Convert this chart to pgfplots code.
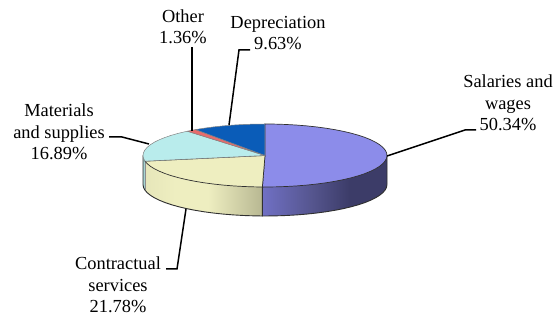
\documentclass[border=0pt]{standalone}
\usepackage{pgfplots}
\pgfplotsset{compat=1.18}
\usepackage{fontspec}
\setmainfont{Liberation Serif}
\definecolor{salTop}{HTML}{8C8CEA}
\definecolor{conTop}{HTML}{EEEEC0}
\definecolor{matTop}{HTML}{B9ECEC}
\definecolor{othTop}{HTML}{E86C6C}
\definecolor{depTop}{HTML}{0A5CB8}
\definecolor{salA}{HTML}{7070C4}
\definecolor{salB}{HTML}{55558E}
\definecolor{salC}{HTML}{3C3C68}
\definecolor{conA}{HTML}{E6E6BA}
\definecolor{conB}{HTML}{EEEEC0}
\definecolor{conC}{HTML}{B8B892}
\definecolor{matA}{HTML}{A0CCCC}
\definecolor{matB}{HTML}{B0DCDC}
\definecolor{edge}{HTML}{303030}
% The path's extent runs from 25bp to 75bp of a declared shading.
\pgfdeclarehorizontalshading{salWall}{100bp}{
  color(0bp)=(salA); color(25bp)=(salA); color(45bp)=(salB);
  color(60bp)=(salC); color(100bp)=(salC)}
\pgfdeclarehorizontalshading{conWall}{100bp}{
  color(0bp)=(conA); color(25bp)=(conA); color(38bp)=(conB); color(52bp)=(conB);
  color(75bp)=(conC); color(100bp)=(conC)}
\pgfdeclarehorizontalshading{matWall}{100bp}{
  color(0bp)=(matA); color(25bp)=(matA); color(75bp)=(matB); color(100bp)=(matB)}
\begin{document}
\begin{tikzpicture}[x=1pt,y=1pt]
\useasboundingbox (0,0) rectangle (558,320);

% Pie: one x unit is the horizontal semi-axis of the top ellipse, one y unit the vertical one.
\begin{axis}[
  at={(0pt,0pt)}, anchor=south west,
  hide axis,
  x=122pt, y=31.5pt,
  xmin=-2.1721, xmax=2.4016,
  ymin=-5.2222, ymax=4.9365,
  clip=false,
]
% Side walls, rim depth 0.9206 y units
\addplot[shade, shading=salWall, draw=edge, line width=0.9pt] coordinates {
 (1,0)(1,-.9206)(.9962,-1.0078)(.9848,-1.0942)(.9659,-1.1794)(.9397,-1.2626)(.9063,-1.3432)
 (.8660,-1.4206)(.8192,-1.4942)(.7660,-1.5634)(.7071,-1.6277)(.6428,-1.6866)(.5736,-1.7398)
 (.5,-1.7866)(.4226,-1.8269)(.3420,-1.8603)(.2588,-1.8865)(.1736,-1.9054)(.0872,-1.9168)
 (0,-1.9206)(-.0214,-1.9204)(-.0214,-.9998)} --cycle;
\addplot[shade, shading=conWall, draw=none] coordinates {
 (-.0214,-.9998)(-.0214,-1.9204)(-.0872,-1.9168)(-.1736,-1.9054)(-.2588,-1.8865)(-.3420,-1.8603)
 (-.4226,-1.8269)(-.5,-1.7866)(-.5736,-1.7398)(-.6428,-1.6866)(-.7071,-1.6277)(-.7660,-1.5634)
 (-.8192,-1.4942)(-.8660,-1.4206)(-.9063,-1.3432)(-.9397,-1.2626)(-.9659,-1.1794)(-.9837,-1.1006)
 (-.9837,-.18)} --cycle;
\addplot[shade, shading=matWall, draw=none] coordinates {
 (-.9837,-.18)(-.9837,-1.1006)(-.9848,-1.0942)(-.9962,-1.0078)(-1,-.9206)(-1,0)} --cycle;
% Rim outline along the left part of the base
\addplot[draw=edge, line width=0.9pt] coordinates {
 (-.0214,-.9998)(-.0214,-1.9204)(-.0872,-1.9168)(-.1736,-1.9054)(-.2588,-1.8865)(-.3420,-1.8603)
 (-.4226,-1.8269)(-.5,-1.7866)(-.5736,-1.7398)(-.6428,-1.6866)(-.7071,-1.6277)(-.7660,-1.5634)
 (-.8192,-1.4942)(-.8660,-1.4206)(-.9063,-1.3432)(-.9397,-1.2626)(-.9659,-1.1794)(-.9837,-1.1006)
 (-.9848,-1.0942)(-.9962,-1.0078)(-1,-.9206)(-1,0)};
\addplot[draw=edge!55, line width=0.4pt] coordinates {(-.9837,-.18)(-.9837,-1.1006)};

% Top face, one sector per share: 3.6 degrees per percent, clockwise from 90
% Salaries and wages 50.34 %
\addplot[fill=salTop, draw=edge, line width=0.7pt, data cs=polar] coordinates {
 (0,0)(90,1)(85,1)(80,1)(75,1)(70,1)(65,1)(60,1)(55,1)(50,1)(45,1)(40,1)(35,1)(30,1)(25,1)(20,1)(15,1)(10,1)(5,1)
 (0,1)(-5,1)(-10,1)(-15,1)(-20,1)(-25,1)(-30,1)(-35,1)(-40,1)(-45,1)(-50,1)(-55,1)(-60,1)(-65,1)(-70,1)(-75,1)(-80,1)(-85,1)(-90,1)(-91.224,1)} --cycle;
% Contractual services 21.78 %
\addplot[fill=conTop, draw=edge, line width=0.7pt, data cs=polar] coordinates {
 (0,0)(-91.224,1)(-95,1)(-100,1)(-105,1)(-110,1)(-115,1)(-120,1)(-125,1)(-130,1)(-135,1)(-140,1)(-145,1)(-150,1)(-155,1)(-160,1)(-165,1)(-169.632,1)} --cycle;
% Materials and supplies 16.89 %
\addplot[fill=matTop, draw=edge!60, line width=0.5pt, data cs=polar] coordinates {
 (0,0)(-169.632,1)(-175,1)(-180,1)(-185,1)(-190,1)(-195,1)(-200,1)(-205,1)(-210,1)(-215,1)(-220,1)(-225,1)(-230.436,1)} --cycle;
% Other 1.36 %
\addplot[fill=othTop, draw=edge!60, line width=0.5pt, data cs=polar] coordinates {
 (0,0)(-230.436,1)(-235.332,1)} --cycle;
% Depreciation 9.63 %
\addplot[fill=depTop, draw=edge!60, line width=0.5pt, data cs=polar] coordinates {
 (0,0)(-235.332,1)(-240,1)(-245,1)(-250,1)(-255,1)(-260,1)(-265,1)(-270,1)} --cycle;
\end{axis}

% Leader lines and labels in picture units, y measured from the bottom edge
\begin{axis}[
  at={(0pt,0pt)}, anchor=south west,
  hide axis,
  x=1pt, y=1pt,
  xmin=0, xmax=558, ymin=0, ymax=320,
  clip=false,
  nodes={font=\fontsize{18.4}{21.5}\selectfont, align=center, inner sep=0pt, text=black},
]
\addplot[black, line width=1.5pt] coordinates {(387,164)(465,190)(476,190)};
\addplot[black, line width=1.5pt] coordinates {(229,195)(239,270)(250,270)};
\addplot[black, line width=1.5pt] coordinates {(192,189)(192,273)};
\addplot[black, line width=1.5pt] coordinates {(149,176)(122,183)(109,183)};
\addplot[black, line width=1.5pt] coordinates {(186,111)(177,51)(166,51)};
\node at (axis cs:508,217) {Salaries and\\wages\\50.34\%};
\node at (axis cs:278,287) {Depreciation\\9.63\%};
\node at (axis cs:183,293) {Other\\1.36\%};
\node at (axis cs:59,188) {Materials\\and supplies\\16.89\%};
\node at (axis cs:118,35) {Contractual\\services\\21.78\%};
\end{axis}
\end{tikzpicture}
\end{document}
